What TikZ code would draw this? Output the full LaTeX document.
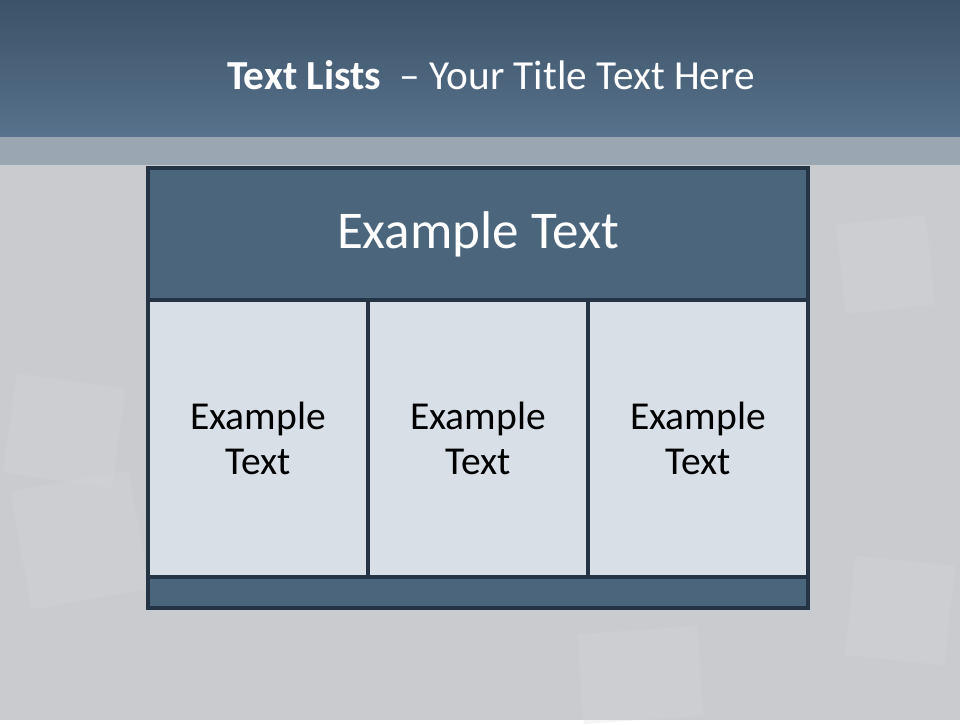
\documentclass[tikz,border=0pt]{standalone}
\usepackage{fontspec}
\setmainfont{Carlito}
\usetikzlibrary{positioning}
\definecolor{barTop}{HTML}{3C5268}
\definecolor{barBot}{HTML}{57728C}
\definecolor{bandGray}{HTML}{9AA6B2}
\definecolor{slideGray}{HTML}{C9CBCE}
\definecolor{tileGray}{HTML}{D6D9DD}
\definecolor{headBlue}{HTML}{4B667C}
\definecolor{cellBlue}{HTML}{D8DFE6}
\definecolor{edgeDark}{HTML}{243444}
\tikzset{
    tile/.style={fill=tileGray, opacity=0.25, draw=none},
    hdrbox/.style={rectangle, draw=edgeDark, fill=headBlue, line width=2pt,
                   minimum width=13.2cm, minimum height=2.64cm, inner sep=0pt,
                   outer sep=0pt, text=white, font=\fontsize{30.2}{35}\selectfont},
    cellbox/.style={rectangle, draw=edgeDark, fill=cellBlue, line width=2pt,
                    minimum width=4.4cm, minimum height=5.54cm, inner sep=0pt,
                    outer sep=0pt, align=center,
                    font=\fontsize{22.5}{25.5}\selectfont},
    footbox/.style={rectangle, draw=edgeDark, fill=headBlue, line width=2pt,
                    minimum width=13.2cm, minimum height=0.62cm, inner sep=0pt,
                    outer sep=0pt},
}

\begin{document}
\begin{tikzpicture}
    % slide background
    \fill[slideGray] (0,0) rectangle (19.2,-14.4);
    \fill[tile, rotate around={-8:(1.2,-8.5)}] (0.2,-7.6) rectangle (2.4,-9.6);
    \fill[tile, rotate around={10:(1.6,-10.8)}] (0.4,-9.6) rectangle (2.8,-12.0);
    \fill[tile, rotate around={6:(17.6,-5.2)}] (16.8,-4.4) rectangle (18.6,-6.2);
    \fill[tile, rotate around={-6:(17.9,-12.2)}] (17.0,-11.2) rectangle (19.0,-13.2);
    \fill[tile, rotate around={4:(12.8,-13.4)}] (11.6,-12.6) rectangle (14.0,-14.4);
    \fill[bandGray] (0,-2.74) rectangle (19.2,-3.30);
    \shade[top color=barTop, bottom color=barBot] (0,0) rectangle (19.2,-2.74);
    \node[text=white, font=\fontsize{23.5}{28}\selectfont] (title) at (9.82,-1.50)
        {\textbf{Text Lists}\ \ – Your Title Text Here};

    % table
    \node[hdrbox] (hdr) at (9.56,-4.68) {Example Text};
    \node[cellbox, below right=0cm and 0cm of hdr.south west] (cellA) {Example\\Text};
    \node[cellbox, right=0cm of cellA] (cellB) {Example\\Text};
    \node[cellbox, right=0cm of cellB] (cellC) {Example\\Text};
    \node[footbox, below right=0cm and 0cm of cellA.south west] (ftr) {};
    \useasboundingbox (0,0) rectangle (19.2,-14.4);
\end{tikzpicture}
\end{document}
